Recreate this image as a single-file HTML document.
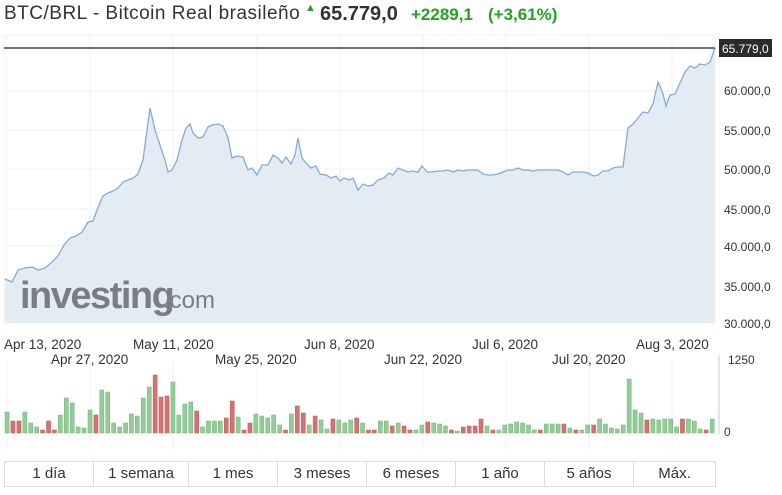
<!DOCTYPE html>
<html><head><meta charset="utf-8"><style>
body{margin:0;width:782px;height:495px;background:#fff;font-family:"Liberation Sans",sans-serif;overflow:hidden;position:relative}
.t{position:absolute;white-space:nowrap}
.btns{position:absolute;left:4px;top:461px;width:712px;height:26px;display:flex;border:1px solid #ddd;box-sizing:border-box}
.btns div{border-right:1px solid #ddd;text-align:center;line-height:24px;font-size:15px;color:#333}
.btns div:last-child{border-right:none}
</style></head><body>
<div class="t" style="left:4px;top:3px;font-size:19px;color:#333;letter-spacing:0.5px">BTC/BRL - Bitcoin Real brasileño</div>
<div class="t" style="left:305px;top:2px;font-size:11px;color:#2a9b2a">&#9650;</div>
<div class="t" style="left:320px;top:3px;font-size:20px;font-weight:bold;color:#333">65.779,0</div>
<div class="t" style="left:411px;top:5px;font-size:17px;font-weight:bold;color:#21a221">+2289,1</div>
<div class="t" style="left:488px;top:5px;font-size:17px;font-weight:bold;color:#21a221">(+3,61%)</div>
<svg width="782" height="495" style="position:absolute;left:0;top:0" id="s">
<rect x="4" y="35" width="711" height="288" fill="#fff" stroke="#eef0f3"/>
<g stroke="#f0f2f5" stroke-width="1" id="grid"></g>
<path id="area" fill="#e3ecf3"/>
<polyline id="line" fill="none" stroke="#82acd9" stroke-width="1.3"/>
<line x1="4" y1="48" x2="715" y2="48" stroke="#222" stroke-width="1.2"/>
<text x="20" y="308" font-family="Liberation Sans" font-size="38" font-weight="bold" fill="#7a7e82" letter-spacing="-1.5">investing</text>
<text x="163" y="308" font-family="Liberation Sans" font-size="24" fill="#7a7e82">.com</text>
<line x1="719" y1="355" x2="719" y2="435" stroke="#ccd" />
<g id="bars"></g>
<rect x="719" y="39" width="53" height="18" fill="#2b2b2b"/>
<text x="722" y="53" font-family="Liberation Sans" font-size="12" fill="#fff">65.779,0</text>
<g font-family="Liberation Sans" font-size="12" fill="#333">
<text x="724" y="95">60.000,0</text><text x="724" y="135">55.000,0</text><text x="724" y="174">50.000,0</text>
<text x="724" y="214">45.000,0</text><text x="724" y="251">40.000,0</text><text x="724" y="291">35.000,0</text>
<text x="724" y="328">30.000,0</text>
<text x="728" y="364">1250</text><text x="724" y="436">0</text>
</g>
<g font-family="Liberation Sans" font-size="13.5" fill="#333">
<text x="4" y="349">Apr 13, 2020</text><text x="133" y="349">May 11, 2020</text><text x="304" y="349">Jun 8, 2020</text>
<text x="472" y="349">Jul 6, 2020</text><text x="636" y="349">Aug 3, 2020</text>
<text x="51" y="364">Apr 27, 2020</text><text x="215" y="364">May 25, 2020</text><text x="384" y="364">Jun 22, 2020</text>
<text x="552" y="364">Jul 20, 2020</text>
</g>
</svg>
<div class="btns"><div style="width:88px">1 día</div><div style="width:94px">1 semana</div><div style="width:88px">1 mes</div><div style="width:88px">3 meses</div><div style="width:88px">6 meses</div><div style="width:88px">1 año</div><div style="width:88px">5 años</div><div style="flex:1">Máx.</div></div>
<script>
var p=[[5,279],[12,282],[18,270],[25,268],[32,267],[38,270],[45,268],[52,262],[58,256],[64,245],[70,238],[76,236],[82,232],[88,222],[93,221],[97,210],[103,196],[108,193],[113,191],[118,188],[123,182],[128,180],[133,178],[138,174],[143,160],[147,130],[150,108],[155,130],[160,145],[165,160],[168,172],[172,170],[177,160],[182,140],[186,128],[190,124],[193,133],[198,138],[203,137],[208,127],[212,125],[218,124],[223,126],[228,138],[232,158],[237,156],[243,157],[248,170],[252,168],[257,175],[262,165],[268,165],[273,155],[278,158],[282,163],[286,157],[291,164],[295,155],[298,138],[302,158],[306,163],[311,168],[316,166],[320,174],[326,175],[331,178],[336,176],[340,181],[344,178],[349,180],[353,178],[358,190],[363,184],[368,186],[373,185],[378,180],[384,178],[389,173],[393,175],[398,168],[403,170],[408,172],[412,171],[418,172],[422,166],[427,172],[432,172],[438,171],[443,171],[448,170],[453,172],[458,170],[463,171],[468,170],[474,170],[478,170],[483,174],[488,175],[493,175],[498,174],[503,172],[508,170],[513,170],[518,168],[523,170],[528,170],[533,171],[538,170],[543,170],[548,170],[553,170],[558,170],[563,172],[568,175],[573,172],[578,172],[583,172],[588,173],[594,176],[598,175],[603,171],[608,171],[613,168],[618,167],[623,167],[628,128],[633,124],[638,118],[643,112],[648,113],[653,104],[658,82],[663,94],[666,106],[670,95],[675,94],[680,83],[685,72],[690,66],[695,68],[700,64],[705,65],[710,62],[715,48]];
var s=p.map(function(a){return a.join(',')}).join(' ');
document.getElementById('line').setAttribute('points',s);
document.getElementById('area').setAttribute('d','M5,323 L'+p.map(function(a){return a.join(',')}).join(' L')+' L715,323 Z');
var g='';[7,90,173,257,340,423,506,589,672].forEach(function(x){g+='<line x1="'+x+'" y1="35" x2="'+x+'" y2="323"/><line x1="'+x+'" y1="360" x2="'+x+'" y2="450"/>'});
[91,130,169,209,246,286].forEach(function(y){g+='<line x1="4" y1="'+y+'" x2="715" y2="'+y+'"/>'});
document.getElementById('grid').innerHTML=g;
var b="g21,r12,r12,g21,g10,g6,r3,r12,r3,g18,g35,g30,g6,g5,g23,r18,g43,g41,g10,g6,g10,g19,g17,g35,g46,r58,r36,r37,g51,g18,g29,g31,r22,g6,g12,g12,g12,r15,r32,g16,r3,r10,g19,g17,g15,g18,g8,r3,g19,r27,r20,g8,r17,g13,g4,r14,g13,g10,g13,r15,g10,r3,r3,g12,g12,r7,g10,r7,r3,g3,g8,r11,g10,g9,g7,r3,g2,r6,r7,r7,r14,g7,r3,g3,g8,g9,g11,g10,g8,g3,r3,g9,g9,g9,r9,g5,r3,g3,g8,r8,g14,g9,g5,g4,g8,g54,g23,g20,r13,g14,g13,g14,g14,g6,r14,g14,g12,g4,r3,g14".split(',');
var h='',dx=711/b.length;
b.forEach(function(v,i){var c=v[0]=='g'?'#93cc98':'#d27372',st=v[0]=='g'?'#6fb577':'#c25a5a',hh=+v.slice(1);h+='<rect x="'+(5+i*dx).toFixed(1)+'" y="'+(433-hh)+'" width="'+(dx-1.8).toFixed(1)+'" height="'+hh+'" fill="'+c+'" stroke="'+st+'" stroke-width="0.5"/>'});
document.getElementById('bars').innerHTML=h;
</script>
</body></html>
